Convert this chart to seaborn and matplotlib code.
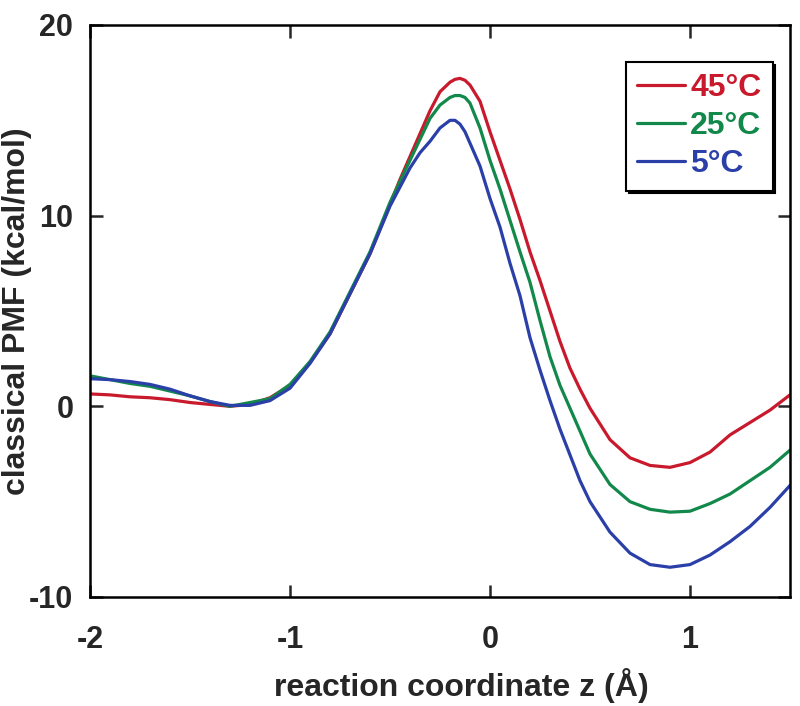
import pandas as pd
import matplotlib
matplotlib.use("Agg")
import matplotlib.pyplot as plt
import seaborn as sns

# Reaction coordinate grid (Angstrom)
z = [-2.0, -1.9, -1.8, -1.7, -1.6, -1.5, -1.4, -1.3, -1.2, -1.1, -1.0,
     -0.9, -0.8, -0.7, -0.6, -0.5, -0.45, -0.4, -0.35, -0.3, -0.25, -0.2,
     -0.175, -0.15, -0.125, -0.1, -0.05, 0.0, 0.05, 0.1, 0.15, 0.2, 0.25,
     0.3, 0.35, 0.4, 0.45, 0.5, 0.6, 0.7, 0.8, 0.9, 1.0, 1.1, 1.2, 1.3,
     1.4, 1.5]

# classical PMF (kcal/mol)
pmf_45 = [0.65, 0.6, 0.5, 0.45, 0.35, 0.2, 0.1, 0.0, 0.1, 0.45, 1.1,
          2.3, 3.8, 5.9, 8.0, 10.6, 11.9, 13.1, 14.3, 15.5, 16.5, 17.0,
          17.15, 17.2, 17.1, 16.85, 16.0, 14.4, 12.9, 11.4, 9.8, 8.1, 6.6,
          5.0, 3.4, 2.0, 0.9, -0.1, -1.75, -2.7, -3.1, -3.2, -2.95, -2.4,
          -1.5, -0.85, -0.2, 0.6]
pmf_25 = [1.6, 1.4, 1.2, 1.05, 0.8, 0.55, 0.25, 0.0, 0.2, 0.4, 1.15,
          2.35, 3.9, 6.0, 8.1, 10.7, 11.8, 12.9, 14.0, 15.1, 15.8, 16.2,
          16.3, 16.3, 16.2, 15.9, 14.6, 12.9, 11.4, 9.75, 8.1, 6.5, 4.5,
          2.6, 1.1, -0.1, -1.3, -2.5, -4.1, -5.0, -5.4, -5.55, -5.5, -5.1,
          -4.6, -3.9, -3.2, -2.3]
pmf_5 = [1.45, 1.4, 1.3, 1.15, 0.9, 0.55, 0.25, 0.05, 0.05, 0.3, 0.95,
         2.25, 3.8, 5.9, 8.0, 10.5, 11.5, 12.5, 13.3, 13.9, 14.6, 15.0,
         15.0, 14.8, 14.4, 13.8, 12.6, 10.9, 9.4, 7.5, 5.8, 3.6, 1.9,
         0.3, -1.2, -2.55, -3.9, -5.0, -6.6, -7.7, -8.3, -8.44, -8.3, -7.8,
         -7.1, -6.3, -5.3, -4.15]

labels = ["45°C", "25°C", "5°C"]
colors = {"45°C": "#c81a2c", "25°C": "#12884a", "5°C": "#2b3fa8"}

df = pd.concat([
    pd.DataFrame({"z": z, "pmf": pmf_45, "T": labels[0]}),
    pd.DataFrame({"z": z, "pmf": pmf_25, "T": labels[1]}),
    pd.DataFrame({"z": z, "pmf": pmf_5, "T": labels[2]}),
])

sns.set_style("ticks")
plt.rcParams["font.family"] = ["Liberation Sans", "DejaVu Sans"]
plt.rcParams["font.weight"] = "bold"

fig = plt.figure(figsize=(8, 7.06), dpi=100)
ax = fig.add_axes([0.1125, 0.1544, 0.875, 0.8102])

sns.lineplot(data=df, x="z", y="pmf", hue="T", hue_order=labels,
             palette=colors, linewidth=2.3, ax=ax, sort=True)

ax.set_xlim(-2, 1.5)
ax.set_ylim(-10, 20)
ax.set_xticks([-2, -1, 0, 1])
ax.set_yticks([-10, 0, 10, 20])
ax.set_xticklabels(["-2", "-1", "0", "1"])
ax.set_yticklabels(["-10", "0", "10", "20"])

ax.tick_params(direction="in", length=9, width=1.8, top=True, right=True,
               labelsize=22)
ax.tick_params(axis="x", pad=20)
ax.tick_params(axis="y", pad=12)
for sp in ax.spines.values():
    sp.set_visible(True)
    sp.set_linewidth(1.8)
    sp.set_color("black")

ax.set_xlabel("reaction coordinate z (Å)", fontsize=23, fontweight="bold")
ax.set_ylabel("classical PMF (kcal/mol)", fontsize=23, fontweight="bold")
ax.xaxis.set_label_coords(0.53, -0.125)
ax.yaxis.set_label_coords(-0.083, 0.5)

leg = ax.legend(loc="upper right", bbox_to_anchor=(0.975, 0.935),
                fontsize=23, frameon=True, fancybox=False,
                shadow={"color": "black", "alpha": 1.0},
                handlelength=1.5, handletextpad=0.15, borderpad=0.35,
                labelspacing=0.25, borderaxespad=0)
leg.get_frame().set_edgecolor("black")
leg.get_frame().set_linewidth(1.5)
for txt, line in zip(leg.get_texts(), leg.get_lines()):
    txt.set_color(colors[txt.get_text()])
    txt.set_fontweight("bold")
    line.set_linewidth(2.3)

fig.savefig("out.png", dpi=100)
